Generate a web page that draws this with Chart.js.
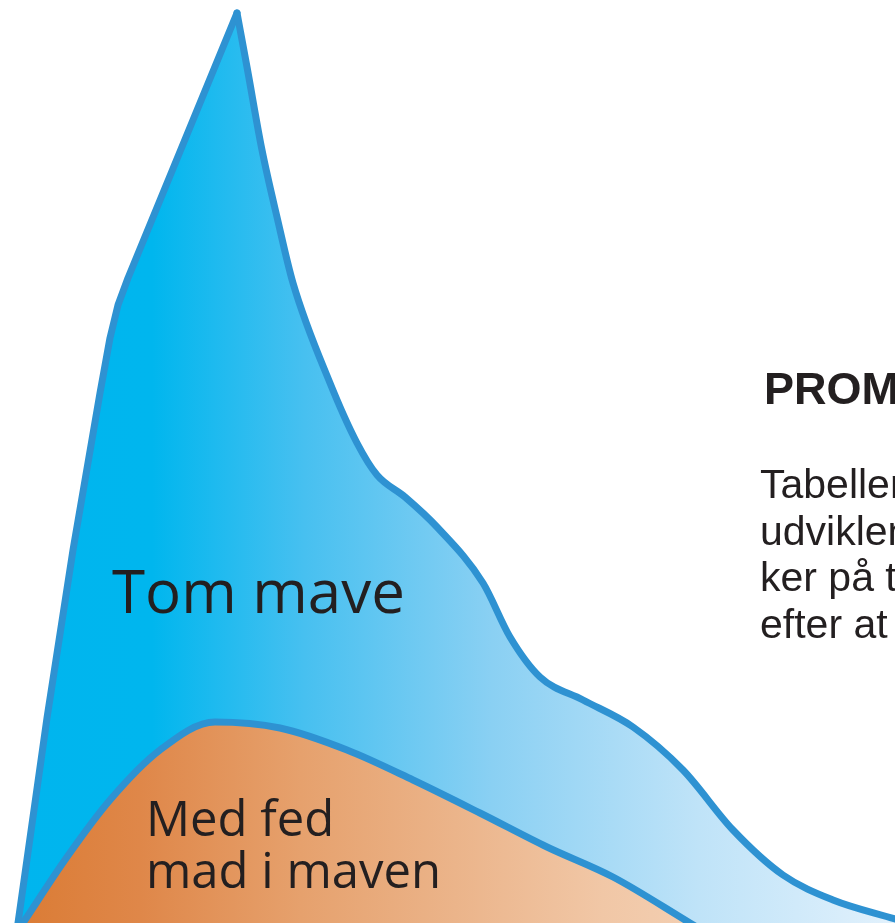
<!DOCTYPE html>
<html>
<head>
<meta charset="utf-8">
<script src="https://cdn.jsdelivr.net/npm/chart.js@4.4.0/dist/chart.umd.min.js"></script>
<style>
  html, body { margin: 0; padding: 0; background: #fff; }
  #wrap { width: 895px; height: 923px; position: relative; overflow: hidden; }
</style>
</head>
<body>
<div id="wrap"><canvas id="chart"></canvas></div>
<script>
// kurverne: x = tid, y = niveau
const tomRiseX = [18, 47, 73, 100, 110, 118, 128, 237];
const tomRiseY = [0, 205, 373, 530, 585, 618, 645, 910];

const tomFallX = [237, 247, 262, 277, 293, 330, 357, 377, 405, 437, 483, 510, 540, 583, 633, 683, 733, 783, 833, 895];
const tomFallY = [910, 856, 773, 706, 640, 540, 480, 448, 426, 396, 340, 286, 246, 223, 196, 153, 93, 48, 23, 4];

const fedX = [23, 67, 110, 160, 215, 280, 347, 413, 480, 547, 613, 690, 705];
const fedY = [0, 66, 123, 173, 201, 195, 173, 143, 110, 76, 46, 0, -9];

const labelTom = 'Tom mave';
const labelFed = ['Med fed', 'mad i maven'];
const heading = 'PROMILLE';
const bodyLines = ['Tabellen viser', 'udviklen af promil-', 'ker på tom mave', 'efter at have drukket'];

const lineBlue = '#2E92D2';

function toPoints(xs, ys) {
    return xs.map((x, i) => ({ x: x, y: ys[i] }));
}

function blueFill(context) {
    const { ctx, chartArea } = context.chart;
    if (!chartArea) return null;
    const g = ctx.createLinearGradient(chartArea.left, 0, chartArea.right, 0);
    g.addColorStop(0, '#00B5EE');
    g.addColorStop(0.17, '#00B6EE');
    g.addColorStop(0.34, '#47C0F0');
    g.addColorStop(0.55, '#8AD0F3');
    g.addColorStop(0.78, '#BFE3F8');
    g.addColorStop(1, '#E2F1FC');
    return g;
}

function orangeFill(context) {
    const { ctx, chartArea } = context.chart;
    if (!chartArea) return null;
    const g = ctx.createLinearGradient(chartArea.left, 0, chartArea.left + 700, 0);
    g.addColorStop(0, '#DA7A32');
    g.addColorStop(0.2, '#DF8749');
    g.addColorStop(0.43, '#E6A16D');
    g.addColorStop(0.65, '#EBB48A');
    g.addColorStop(0.86, '#F1C7A6');
    g.addColorStop(1, '#F3CFB2');
    return g;
}

// tekster tegnes direkte på canvas efter grafen
const textPlugin = {
    id: 'texts',
    afterDraw(chart) {
        const ctx = chart.ctx;
        ctx.save();
        ctx.fillStyle = '#231F20';
        ctx.textBaseline = 'alphabetic';
        ctx.font = '60px "Open Sans"';
        ctx.fillText(labelTom, 112, 613);
        ctx.font = '49px "Open Sans"';
        ctx.fillText(labelFed[0], 146, 836);
        ctx.fillText(labelFed[1], 146, 888);
        ctx.font = 'bold 45px "Liberation Sans"';
        ctx.fillText(heading, 764, 404);
        ctx.font = '41px "Liberation Sans"';
        bodyLines.forEach((t, i) => ctx.fillText(t, 760, 498 + i * 46.5));
        ctx.restore();
    }
};

const common = {
    borderColor: lineBlue,
    borderWidth: 7,
    borderJoinStyle: 'round',
    borderCapStyle: 'round',
    pointRadius: 0,
    cubicInterpolationMode: 'monotone',
    fill: 'origin',
    clip: 10
};

new Chart(document.getElementById('chart'), {
    type: 'line',
    data: {
        datasets: [
            Object.assign({ label: 'Med fed mad i maven', data: toPoints(fedX, fedY), backgroundColor: orangeFill }, common),
            Object.assign({ label: 'Tom mave (fald)', data: toPoints(tomFallX, tomFallY), backgroundColor: blueFill }, common),
            // stigningen er næsten retlinet, så her bruges lige linjestykker
            Object.assign({}, common, { label: 'Tom mave (stigning)', data: toPoints(tomRiseX, tomRiseY), backgroundColor: blueFill, cubicInterpolationMode: 'default', tension: 0 })
        ]
    },
    options: {
        responsive: true,
        maintainAspectRatio: false,
        animation: false,
        layout: { padding: 0 },
        plugins: {
            legend: { display: false },
            tooltip: { enabled: false }
        },
        scales: {
            x: { type: 'linear', min: 0, max: 895, display: false },
            y: { type: 'linear', min: 0, max: 923, display: false }
        }
    },
    plugins: [textPlugin]
});
</script>
</body>
</html>
